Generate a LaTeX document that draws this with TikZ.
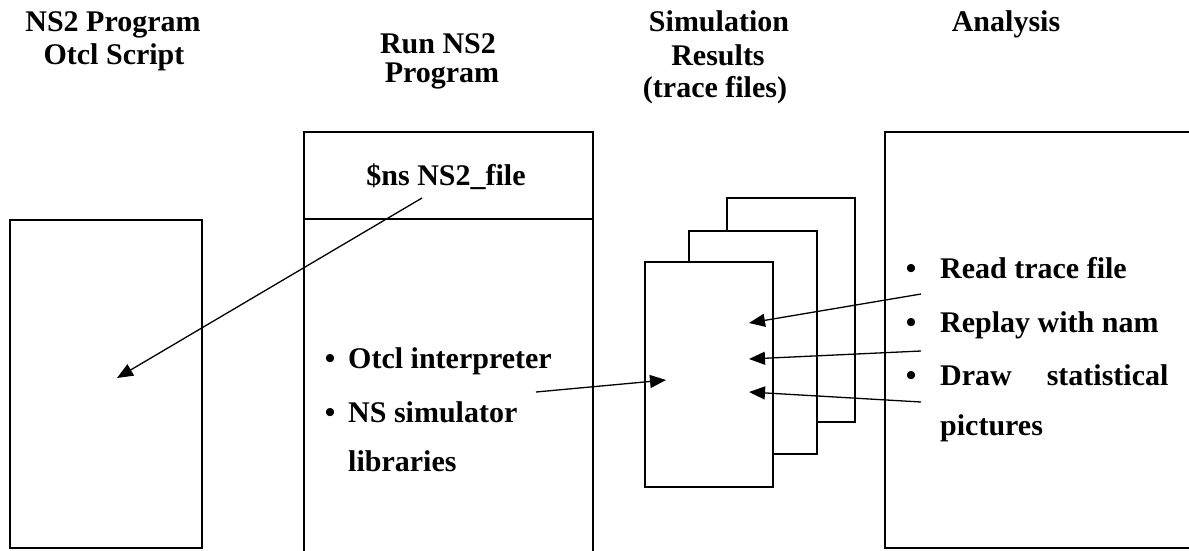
\documentclass[tikz,border=0pt]{standalone}
\usepackage{fontspec}
\setmainfont{Liberation Serif}
\usetikzlibrary{arrows.meta}
\begin{document}
\begin{tikzpicture}[x=1pt,y=-1pt,
  box/.style={draw, line width=1.5pt, fill=white, inner sep=0pt, outer sep=0pt},
  page/.style={box, minimum width=128pt},
  txt/.style={font=\bfseries\fontsize{30}{37}\selectfont, inner sep=0pt, anchor=base},
  item/.style={txt, anchor=base west},
  conn/.style={line width=1.3pt, -{Triangle[length=16pt,width=13pt]}}]
\clip (0,0) rectangle (1189,550);
\fill[white] (0,0) rectangle (1189,550);

% column headings
\node[txt] (h1a) at (113,31) {NS2 Program};
\node[txt] (h1b) at (114,64) {Otcl Script};
\node[txt] (h2a) at (438,53) {Run NS2};
\node[txt] (h2b) at (442,82) {Program};
\node[txt] (h3a) at (719,31) {Simulation};
\node[txt] (h3b) at (718,65) {Results};
\node[txt] (h3c) at (715,97) {(trace files)};
\node[txt] (h4)  at (1006,31) {Analysis};

% script box
\node[box, minimum width=192pt, minimum height=328pt] (script) at (106,384) {};

% run box with its command header
\node[box, minimum width=289pt, minimum height=438pt] (run) at (448.5,351) {};
\draw[line width=1.5pt] (304,219) -- (593,219);
\node[txt] (cmd) at (446,185) {\$ns NS2\_file};
\node[txt] (b1) at (330,368) {•};
\node[item] (r1) at (348,368) {Otcl interpreter};
\node[txt] (b2) at (330,422) {•};
\node[item] (r2) at (348,422) {NS simulator};
\node[item] (r3) at (348,471) {libraries};

% stack of trace files
\node[page, minimum height=224pt] (tr3) at (791,310) {};
\node[page, minimum height=223pt] (tr2) at (753,342.5) {};
\node[page, minimum height=225pt] (tr1) at (709,374.5) {};

% analysis box
\node[box, line width=1.6pt, minimum width=315pt, minimum height=416pt] (ana) at (1042.5,340) {};
\node[txt] (c1) at (911,278) {•};
\node[item] (an1) at (940,278) {Read trace file};
\node[txt] (c2) at (911,332) {•};
\node[item] (an2) at (940,332) {Replay with nam};
\node[txt] (c3) at (911,385) {•};
\node[item] (an3) at (940,385) {Draw\hspace{35pt}statistical};
\node[item] (an4) at (940,435) {pictures};

% connector end points
\coordinate (p1s) at (422,198);  \coordinate (p1e) at (117,378);
\coordinate (p2s) at (536,392);  \coordinate (p2e) at (666,380);
\coordinate (p3s) at (921,294);  \coordinate (p3e) at (749,323);
\coordinate (p4s) at (921,351);  \coordinate (p4e) at (749,359);
\coordinate (p5s) at (921,402);  \coordinate (p5e) at (749,392);

\draw[conn] (p1s) -- (p1e);
\draw[conn] (p2s) -- (p2e);
\draw[conn] (p3s) -- (p3e);
\draw[conn] (p4s) -- (p4e);
\draw[conn] (p5s) -- (p5e);
\end{tikzpicture}
\end{document}
